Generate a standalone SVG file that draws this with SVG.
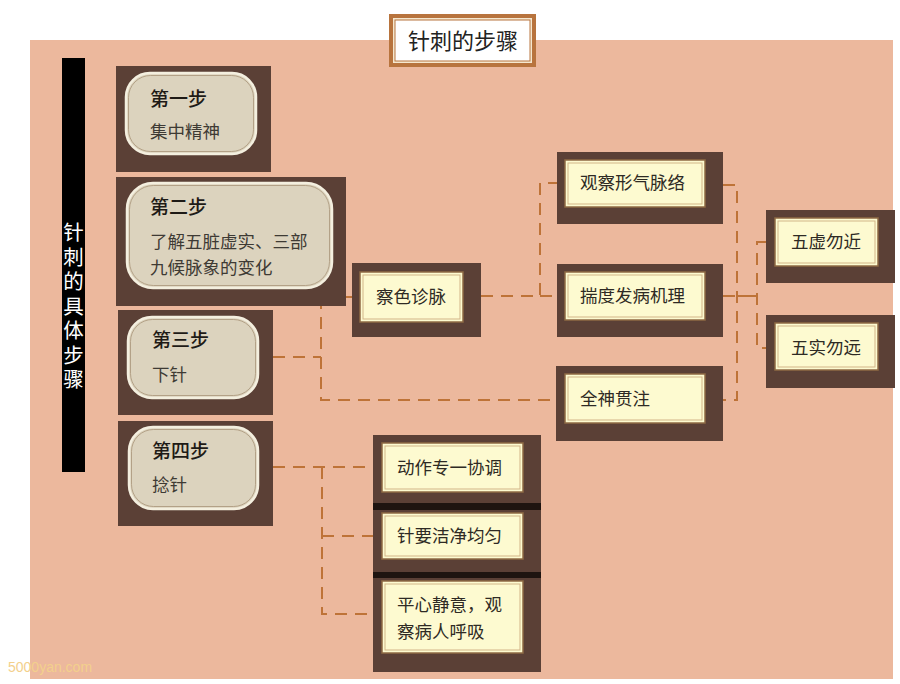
<svg xmlns="http://www.w3.org/2000/svg" width="900" height="684" viewBox="0 0 900 684">
<defs>
<style>
.bg{fill:#ECB89D}
.dark{fill:#5B4036}
.step{fill:#DCD3BE;stroke:#F4EFDF;stroke-width:2.5}
.stepin{fill:none;stroke:#A89478;stroke-width:0.8}
.yb{fill:#FDFAD0;stroke:#8E6A44;stroke-width:1.5}
.ybin{fill:none;stroke:#D2B588;stroke-width:1}
.h{font-family:"Noto Sans CJK SC","Noto Sans",sans-serif;font-size:19px;font-weight:500;fill:#1E1A16}
.t{font-family:"Noto Sans CJK SC","Noto Sans",sans-serif;font-size:17.5px;fill:#3E3A34}
.y{font-family:"Noto Sans CJK SC","Noto Sans",sans-serif;font-size:17.5px;fill:#2E2A24}
.dash{fill:none;stroke:#BE7338;stroke-width:2;stroke-dasharray:12 8}
.solid{fill:none;stroke:#BE7338;stroke-width:2}
.vert{font-family:"Noto Sans CJK SC","Noto Sans",sans-serif;font-size:20.5px;fill:#FFFFFF;writing-mode:vertical-rl;text-orientation:upright;letter-spacing:4px}
</style>
</defs>
<rect x="0" y="0" width="900" height="684" fill="#FFFFFF"/>
<rect class="bg" x="30" y="40" width="863" height="639"/>

<g id="title">
<rect x="389" y="14" width="147" height="53" fill="#B8743E"/>
<rect x="393" y="18" width="139" height="45" fill="#F5E8D0"/>
<rect x="395" y="20" width="135" height="41" fill="#FFFFFF" stroke="#B8743E" stroke-width="1"/>
<text x="463" y="49" text-anchor="middle" font-family="'Noto Sans CJK SC','Noto Sans',sans-serif" font-size="22" fill="#222">针刺的步骤</text>
</g>

<g id="sidebar">
<rect x="62" y="58" width="23" height="414" fill="#000"/>
<text class="vert" x="73.5" y="222">针刺的具体步骤</text>
</g>

<g id="connectors">
<path class="solid" d="M258,357 H273"/>
<path class="dash" d="M273,357 H321"/>
<path class="dash" d="M321,297 V400 H556"/>
<path class="dash" d="M321,297 H352"/>
<path class="dash" d="M481,296 H540 V183 H557"/>
<path class="dash" d="M540,296 H557"/>
<path class="dash" d="M723,185 H737 V400 H723"/>
<path class="dash" d="M723,296 H737"/>
<path class="solid" d="M737,296 H757"/>
<path class="dash" d="M766,242 H757 V348 H766"/>
<path class="solid" d="M258,467 H273"/>
<path class="dash" d="M273,467 H373"/>
<path class="dash" d="M322,467 V614 H373"/>
<path class="dash" d="M322,536 H373"/>
</g>

<g id="step1">
<rect class="dark" x="116" y="66" width="155" height="106"/>
<rect class="step" x="126" y="73" width="130" height="81" rx="24"/>
<rect class="stepin" x="128.5" y="75.5" width="125" height="76" rx="22"/>
<text class="h" x="150" y="106">第一步</text>
<text class="t" x="150" y="138">集中精神</text>
</g>

<g id="step2">
<rect class="dark" x="116" y="177" width="230" height="129"/>
<rect class="step" x="127" y="183" width="205" height="105" rx="26"/>
<rect class="stepin" x="129.5" y="185.5" width="200" height="100" rx="24"/>
<text class="h" x="150" y="214">第二步</text>
<text class="t" x="150" y="248">了解五脏虚实、三部</text>
<text class="t" x="150" y="274">九候脉象的变化</text>
</g>

<g id="step3">
<rect class="dark" x="118" y="310" width="155" height="105"/>
<rect class="step" x="128" y="317" width="130" height="81" rx="24"/>
<rect class="stepin" x="130.5" y="319.5" width="125" height="76" rx="22"/>
<text class="h" x="152" y="347">第三步</text>
<text class="t" x="152" y="381">下针</text>
</g>

<g id="step4">
<rect class="dark" x="118" y="421" width="155" height="105"/>
<rect class="step" x="129" y="427" width="129" height="82" rx="24"/>
<rect class="stepin" x="131.5" y="429.5" width="124" height="77" rx="22"/>
<text class="h" x="152" y="458">第四步</text>
<text class="t" x="152" y="491">捻针</text>
</g>

<g id="chase">
<rect class="dark" x="352" y="263" width="129" height="74"/>
<rect class="yb" x="360" y="272" width="103" height="50"/>
<rect class="ybin" x="363" y="275" width="97" height="44"/>
<text class="y" x="411" y="303" text-anchor="middle">察色诊脉</text>
</g>

<g id="observe">
<rect class="dark" x="557" y="152" width="166" height="72"/>
<rect class="yb" x="565" y="160" width="140" height="47"/>
<rect class="ybin" x="568" y="163" width="134" height="41"/>
<text class="y" x="580" y="189">观察形气脉络</text>
</g>

<g id="assess">
<rect class="dark" x="557" y="264" width="166" height="73"/>
<rect class="yb" x="565" y="272" width="140" height="48"/>
<rect class="ybin" x="568" y="275" width="134" height="42"/>
<text class="y" x="580" y="302">揣度发病机理</text>
</g>

<g id="focus">
<rect class="dark" x="556" y="366" width="167" height="75"/>
<rect class="yb" x="565" y="374" width="140" height="49"/>
<rect class="ybin" x="568" y="377" width="134" height="43"/>
<text class="y" x="580" y="405">全神贯注</text>
</g>

<g id="wuxu">
<rect class="dark" x="766" y="210" width="129" height="73"/>
<rect class="yb" x="775" y="218" width="103" height="48"/>
<rect class="ybin" x="778" y="221" width="97" height="42"/>
<text class="y" x="826" y="248" text-anchor="middle">五虚勿近</text>
</g>

<g id="wushi">
<rect class="dark" x="766" y="315" width="129" height="73"/>
<rect class="yb" x="775" y="323" width="103" height="47"/>
<rect class="ybin" x="778" y="326" width="97" height="41"/>
<text class="y" x="826" y="354" text-anchor="middle">五实勿远</text>
</g>

<g id="sep">
<rect x="373" y="503" width="168" height="7" fill="#1E1410"/>
<rect x="373" y="572" width="168" height="6" fill="#1E1410"/>
</g>

<g id="action">
<rect class="dark" x="373" y="435" width="168" height="68"/>
<rect class="yb" x="382" y="443" width="141" height="49"/>
<rect class="ybin" x="385" y="446" width="135" height="43"/>
<text class="y" x="397" y="474">动作专一协调</text>
</g>

<g id="clean">
<rect class="dark" x="373" y="510" width="168" height="62"/>
<rect class="yb" x="382" y="513" width="141" height="46"/>
<rect class="ybin" x="385" y="516" width="135" height="40"/>
<text class="y" x="397" y="542">针要洁净均匀</text>
</g>

<g id="calm">
<rect class="dark" x="373" y="578" width="168" height="94"/>
<rect class="yb" x="382" y="581" width="141" height="72"/>
<rect class="ybin" x="385" y="584" width="135" height="66"/>
<text class="y" x="397" y="611">平心静意，观</text>
<text class="y" x="397" y="638">察病人呼吸</text>
</g>

<text x="8" y="672" font-family="'Liberation Sans',Arial,sans-serif" font-size="14" fill="#F3D08C">5000yan.com</text>
</svg>
